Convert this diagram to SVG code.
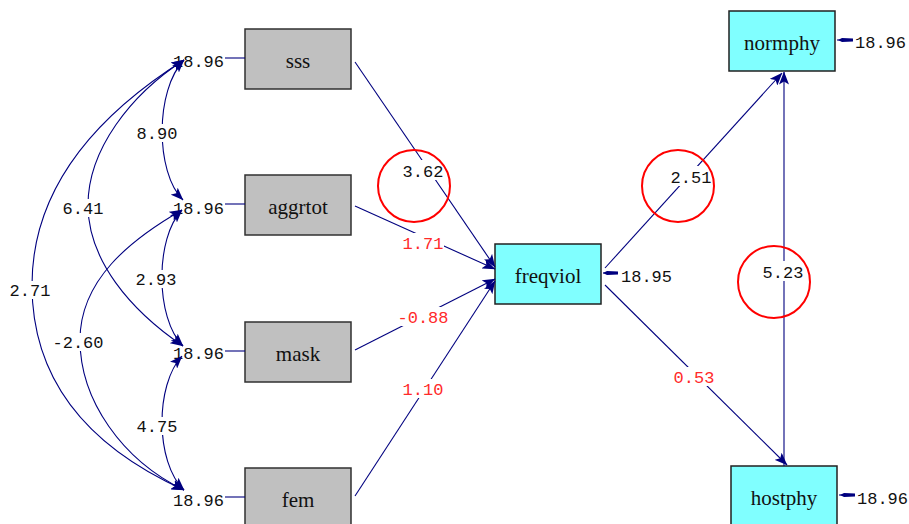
<svg xmlns="http://www.w3.org/2000/svg" width="909" height="524" viewBox="0 0 909 524">
  <style>
    .obs { fill: #c0c0c0; stroke: #303030; stroke-width: 1.5; }
    .lat { fill: #80ffff; stroke: #202020; stroke-width: 1.5; }
    .name { font-family: "Liberation Serif", "DejaVu Serif", serif; font-size: 21px; fill: #111; text-anchor: middle; }
    .num { font-family: "Liberation Mono", "DejaVu Sans Mono", monospace; font-size: 17px; fill: #111; }
    .red { fill: #ff2a2a; }
    .mid { text-anchor: middle; }
    .edge { fill: none; stroke: #00007f; stroke-width: 1.1; }
    .gap { fill: #ffffff; }
    .ring { fill: none; stroke: #ff0000; stroke-width: 2; }
    .head { fill: #00007f; }
  </style>
  <defs>
    <marker id="arr" viewBox="0 0 13 10" refX="12.5" refY="5" markerWidth="13" markerHeight="10" markerUnits="userSpaceOnUse" orient="auto-start-reverse">
      <path d="M0,0 L13,5 L0,10 L3,5 z" fill="#00007f"/>
    </marker>
  </defs>
  <rect width="909" height="524" fill="#ffffff"/>

  <!-- observed exogenous variables with their variances -->
  <g id="sss">
    <rect class="obs" x="245" y="29" width="106" height="60"/>
    <text class="name" x="298" y="68">sss</text>
    <path class="edge" d="M225,58 L245,58"/>
    <text class="num" x="224" y="67" text-anchor="end">18.96</text>
  </g>
  <g id="aggrtot">
    <rect class="obs" x="245" y="175" width="106" height="60"/>
    <text class="name" x="298" y="214">aggrtot</text>
    <path class="edge" d="M225,204 L245,204"/>
    <text class="num" x="224" y="214" text-anchor="end">18.96</text>
  </g>
  <g id="mask">
    <rect class="obs" x="245" y="322" width="106" height="60"/>
    <text class="name" x="298" y="361">mask</text>
    <path class="edge" d="M225,351 L245,351"/>
    <text class="num" x="224" y="359" text-anchor="end">18.96</text>
  </g>
  <g id="fem">
    <rect class="obs" x="245" y="468" width="106" height="60"/>
    <text class="name" x="298" y="507">fem</text>
    <path class="edge" d="M225,497 L245,497"/>
    <text class="num" x="224" y="506" text-anchor="end">18.96</text>
  </g>

  <!-- endogenous variables with their error variances -->
  <g id="freqviol">
    <rect class="lat" x="495" y="244" width="106" height="60"/>
    <text class="name" x="548" y="283">freqviol</text>
    <path class="edge" d="M618,273 L603,273"/>
    <path class="head" d="M607,271 L618,271.5 L618,274.5 L607,275 L603,273 z"/>
    <text class="num" x="621" y="282">18.95</text>
  </g>
  <g id="normphy">
    <rect class="lat" x="729" y="11" width="106" height="60"/>
    <text class="name" x="782" y="50">normphy</text>
    <path class="edge" d="M853,40 L837,40"/>
    <path class="head" d="M842,38 L853,38.5 L853,41.5 L842,42 L838,40 z"/>
    <text class="num" x="855" y="48">18.96</text>
  </g>
  <g id="hostphy">
    <rect class="lat" x="731" y="466" width="106" height="60"/>
    <text class="name" x="784" y="505">hostphy</text>
    <path class="edge" d="M855,495 L839,495"/>
    <path class="head" d="M844,493 L855,493.5 L855,496.5 L844,497 L840,495 z"/>
    <text class="num" x="857" y="504">18.96</text>
  </g>

  <!-- paths and covariances -->
  <g id="connectors">
    <!-- covariances among the exogenous variables -->
    <path class="edge" d="M184,60 C155,90 155,172 183,200" marker-start="url(#arr)" marker-end="url(#arr)"/>
    <path class="edge" d="M182,210 C155,238 155,318 183,346" marker-start="url(#arr)" marker-end="url(#arr)"/>
    <path class="edge" d="M182,356 C155,385 155,462 184,490" marker-start="url(#arr)" marker-end="url(#arr)"/>
    <path class="edge" d="M184,60 C130,95 88,150 88,205 C88,260 130,310 183,346" marker-start="url(#arr)" marker-end="url(#arr)"/>
    <path class="edge" d="M182,210 C130,240 80,280 80,340 C80,400 122,460 184,490" marker-start="url(#arr)" marker-end="url(#arr)"/>
    <path class="edge" d="M184,60 C108,108 32,180 32,285 C32,390 100,452 184,490" marker-start="url(#arr)" marker-end="url(#arr)"/>

    <!-- regressions -->
    <path class="edge" d="M355,62 L495,267" marker-end="url(#arr)"/>
    <path class="edge" d="M355,206 L495,269" marker-end="url(#arr)"/>
    <path class="edge" d="M355,350 L495,279" marker-end="url(#arr)"/>
    <path class="edge" d="M355,496 L495,281" marker-end="url(#arr)"/>
    <path class="edge" d="M605,268 L782,73" marker-end="url(#arr)"/>
    <path class="edge" d="M605,285 L787,465" marker-end="url(#arr)"/>
    <path class="edge" d="M784,466 L784,72" marker-end="url(#arr)"/>
  </g>

  <!-- estimates, each on a clearing in its line -->
  <g id="estimates">
    <rect class="gap" x="136" y="124" width="42" height="18"/>
    <text class="num mid" x="157" y="139">8.90</text>
    <rect class="gap" x="62" y="199" width="42" height="18"/>
    <text class="num mid" x="83" y="214">6.41</text>
    <rect class="gap" x="135" y="270" width="42" height="18"/>
    <text class="num mid" x="156" y="285">2.93</text>
    <rect class="gap" x="9" y="281" width="42" height="18"/>
    <text class="num mid" x="30" y="296">2.71</text>
    <rect class="gap" x="52" y="333" width="52" height="18"/>
    <text class="num mid" x="78" y="348">-2.60</text>
    <rect class="gap" x="136" y="417" width="42" height="18"/>
    <text class="num mid" x="157" y="432">4.75</text>

    <rect class="gap" x="402" y="160" width="42" height="20"/>
    <text class="num mid" x="423" y="177">3.62</text>
    <rect class="gap" x="402" y="233" width="42" height="19"/>
    <text class="num mid red" x="423" y="249">1.71</text>
    <rect class="gap" x="397" y="307" width="52" height="19"/>
    <text class="num mid red" x="423" y="323">-0.88</text>
    <rect class="gap" x="402" y="379" width="42" height="19"/>
    <text class="num mid red" x="423" y="395">1.10</text>
    <rect class="gap" x="670" y="166" width="42" height="20"/>
    <text class="num mid" x="691" y="183">2.51</text>
    <rect class="gap" x="673" y="367" width="42" height="19"/>
    <text class="num mid red" x="694" y="383">0.53</text>
    <rect class="gap" x="762" y="261" width="42" height="20"/>
    <text class="num mid" x="783" y="278">5.23</text>
  </g>

  <!-- highlight rings -->
  <g id="rings">
    <circle class="ring" cx="414" cy="186" r="36"/>
    <circle class="ring" cx="678" cy="186" r="36"/>
    <circle class="ring" cx="774" cy="282" r="36"/>
  </g>
</svg>
